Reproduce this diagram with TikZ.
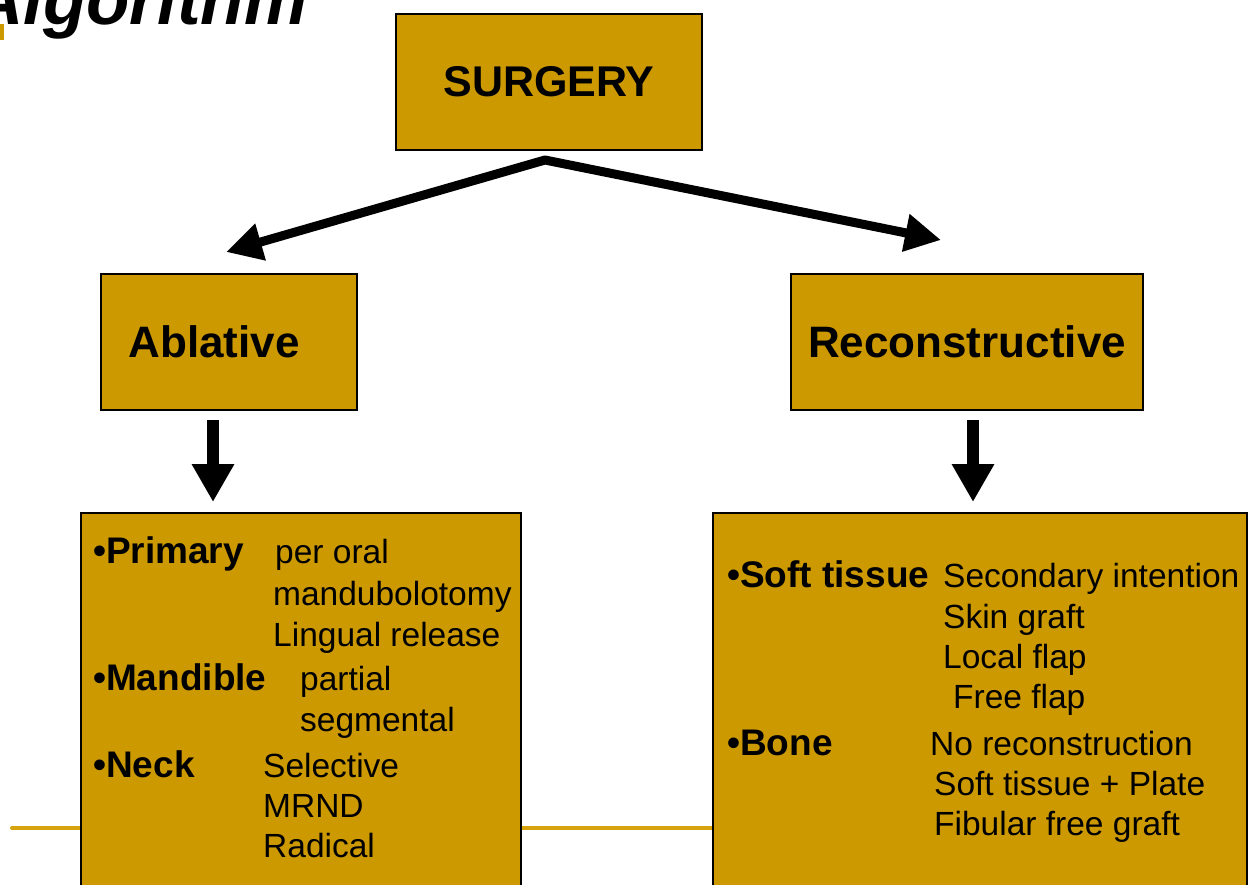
\documentclass[tikz,border=0pt]{standalone}
\usepackage{fontspec}
\setmainfont{Liberation Sans}
\usetikzlibrary{arrows.meta}
\definecolor{gold}{RGB}{204,153,0}
\definecolor{lineor}{RGB}{214,162,14}
\begin{document}
\begin{tikzpicture}[x=1pt,y=-1pt,
  box/.style={draw=black,line width=2pt,fill=gold,inner sep=0pt},
  headb/.style={font=\fontsize{44}{50}\selectfont\bfseries},
  lab/.style={anchor=base west,inner sep=0pt,font=\fontsize{37}{40}\selectfont\bfseries},
  item/.style={anchor=base west,inner sep=0pt,font=\fontsize{33.5}{40}\selectfont},
  diag/.style={line width=9pt,line join=round,{Triangle[length=36pt,width=36pt]}-{Triangle[length=36pt,width=36pt]}},
  down/.style={line width=12pt,-{Triangle[length=38pt,width=40pt]}}]
\useasboundingbox (0,0) rectangle (1249,884);
\clip (0,0) rectangle (1249,884);
% title
\node[anchor=base west,inner sep=0pt,font=\fontsize{71}{72}\selectfont\bfseries\itshape] (title) at (-28,24) {Algorithm};
\fill[gold] (0,24) rectangle (4,40);
% orange rule
\draw[lineor,line width=4pt,line cap=round] (12,828) -- (1240,828);
% boxes
\node[box,minimum width=306pt,minimum height=136pt,font=\fontsize{43}{50}\selectfont\bfseries] (surgery) at (549,82) {SURGERY};
\node[box,minimum width=256pt,minimum height=136pt] (ablative) at (229,342) {};
\node[headb,inner sep=0pt] (ablT) at (214,342) {Ablative};
\node[box,minimum width=352pt,minimum height=136pt,headb] (recon) at (967,342) {Reconstructive};
\node[box,anchor=north west,minimum width=440pt,minimum height=420pt] (lowL) at (80,512) {};
\node[box,anchor=north west,minimum width=534pt,minimum height=420pt] (lowR) at (712,512) {};
% arrows
\coordinate (apex) at (545,160);
\coordinate (tipL) at (226,252);
\coordinate (tipR) at (941,240);
\draw[diag] (tipL) -- (apex) -- (tipR);
\coordinate (dL0) at (213,420);
\coordinate (dL1) at (213,502);
\coordinate (dR0) at (973,420);
\coordinate (dR1) at (973,502);
\draw[down] (dL0) -- (dL1);
\draw[down] (dR0) -- (dR1);
% left box text
\node[lab] (prim) at (93,563) {•Primary};
\node[item] (po) at (275,563) {per oral};
\node[item] (mand) at (273,605) {mandubolotomy};
\node[item] (ling) at (273,646) {Lingual release};
\node[lab] (mandib) at (93,690) {•Mandible};
\node[item] (part) at (300,690) {partial};
\node[item] (seg) at (300,731) {segmental};
\node[lab] (neck) at (93,777) {•Neck};
\node[item] (sel) at (263,777) {Selective};
\node[item] (mrnd) at (263,817) {MRND};
\node[item] (rad) at (263,857) {Radical};
% right box text
\node[lab] (soft) at (727,587) {•Soft tissue};
\node[item] (sec) at (943,587) {Secondary intention};
\node[item] (skin) at (943,628) {Skin graft};
\node[item] (loc) at (943,668) {Local flap};
\node[item] (free) at (953,708) {Free flap};
\node[lab] (bone) at (727,755) {•Bone};
\node[item] (norec) at (930,755) {No reconstruction};
\node[item] (stp) at (934,795) {Soft tissue + Plate};
\node[item] (fib) at (934,835) {Fibular free graft};
\end{tikzpicture}
\end{document}
